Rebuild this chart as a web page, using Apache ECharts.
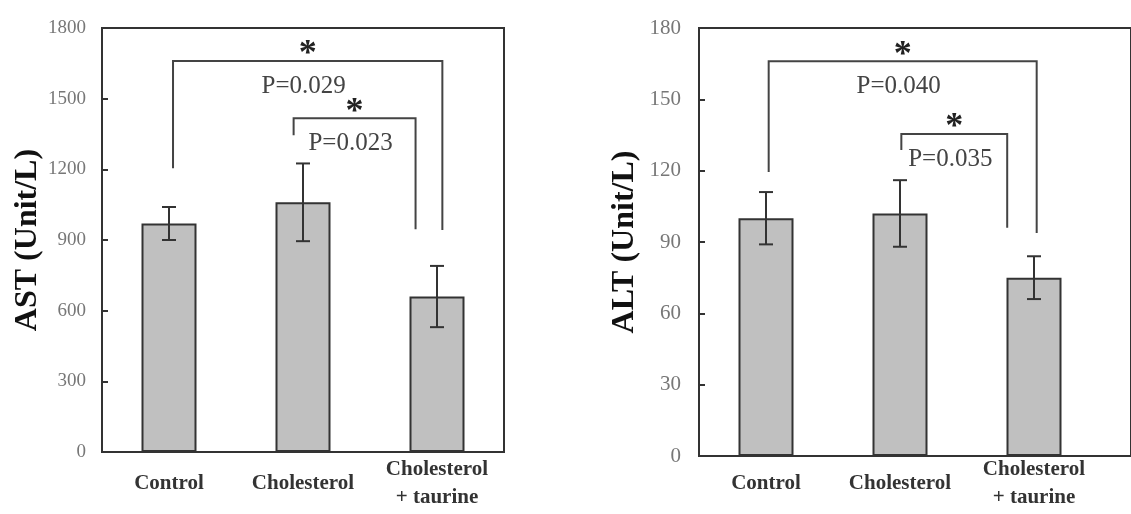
<!DOCTYPE html>
<html>
<head>
<meta charset="utf-8">
<script src="https://cdn.jsdelivr.net/npm/echarts@6/dist/echarts.min.js"></script>
<style>
html,body{margin:0;padding:0;background:#fff;}
#chart{width:1131px;height:514px;}
</style>
</head>
<body>
<div id="chart"></div>
<script>
// ---- data ----
const categories = ['Control', 'Cholesterol', 'Cholesterol\n+ taurine'];
const astMean = [970, 1060, 660];
const astErr = [70, 165, 130];
const altMean = [100, 102, 75];
const altErr = [11, 14, 9];
const astAxis = { min: 0, max: 1800, interval: 300 };
const altAxis = { min: 0, max: 180, interval: 30 };
// significance brackets: [fromCategory, toCategory, topValue, leftEndValue, rightEndValue]
const astBrackets = [[0, 2, 1660, 1205, 942], [1, 2, 1417, 1345, 946]];
const astPValues = ['P=0.029', 'P=0.023'];
const altBrackets = [[0, 2, 166, 119.4, 93.8], [1, 2, 135.4, 128.7, 96]];
const altPValues = ['P=0.040', 'P=0.035'];
// bracket leg horizontal shifts (fraction of a category band) — layout only
const astShift = [[0.03, 0.04], [-0.07, -0.16]];
const altShift = [[0.02, 0.02], [0.01, -0.2]];

const SERIF = "'Liberation Serif', 'DejaVu Serif', serif";
const INK = '#333';

function errorRender(params, api) {
  const x = api.value(0);
  const lo = api.coord([x, api.value(1)]);
  const hi = api.coord([x, api.value(2)]);
  const cap = 7;
  return {
    type: 'group',
    children: [
      { type: 'line', shape: { x1: lo[0], y1: lo[1], x2: hi[0], y2: hi[1] }, style: { stroke: INK, lineWidth: 2 } },
      { type: 'line', shape: { x1: hi[0] - cap, y1: hi[1], x2: hi[0] + cap, y2: hi[1] }, style: { stroke: INK, lineWidth: 2 } },
      { type: 'line', shape: { x1: lo[0] - cap, y1: lo[1], x2: lo[0] + cap, y2: lo[1] }, style: { stroke: INK, lineWidth: 2 } }
    ]
  };
}

function bracketRender(shifts, pvals) {
  return function (params, api) {
    const i = params.dataIndex;
    const band = api.size([1, 0])[0];
    const from = api.value(0), to = api.value(1);
    const yTop = api.coord([from, api.value(2)])[1];
    const yL = api.coord([from, api.value(3)])[1];
    const yR = api.coord([to, api.value(4)])[1];
    const xL = api.coord([from, api.value(2)])[0] + shifts[i][0] * band;
    const xR = api.coord([to, api.value(2)])[0] + shifts[i][1] * band;
    const mid = (xL + xR) / 2;
    return {
      type: 'group',
      children: [
        { type: 'polyline', shape: { points: [[xL, yL], [xL, yTop], [xR, yTop], [xR, yR]] },
          style: { stroke: '#444', lineWidth: 2, fill: null } },
        { type: 'text', x: mid, y: yTop - 6,
          style: { text: '*', fill: '#222', font: "bold 36px " + SERIF, align: 'center', verticalAlign: 'middle' } },
        { type: 'text', x: mid - 4, y: yTop + 25,
          style: { text: pvals[i], fill: '#444', font: "25px " + SERIF, align: 'center', verticalAlign: 'middle' } }
      ]
    };
  };
}

function xAxisCfg(gridIndex, margin) {
  return {
    type: 'category', gridIndex: gridIndex, data: categories,
    axisLine: { show: true, lineStyle: { color: INK, width: 2 } },
    axisTick: { show: false },
    axisLabel: { color: '#333', fontFamily: SERIF, fontWeight: 'bold', fontSize: 21,
      margin: margin, verticalAlign: 'middle', lineHeight: 28, interval: 0 }
  };
}
function yAxisCfg(gridIndex, ax, name, fontSize, margin, gap) {
  return {
    type: 'value', gridIndex: gridIndex, min: ax.min, max: ax.max, interval: ax.interval,
    name: name, nameLocation: 'middle', nameGap: gap, nameRotate: 90,
    nameTextStyle: { color: '#111', fontFamily: SERIF, fontWeight: 'bold', fontSize: 32 },
    axisLine: { show: true, lineStyle: { color: INK, width: 2 } },
    axisTick: { show: true, inside: true, length: 6, lineStyle: { color: INK, width: 2 } },
    splitLine: { show: false },
    axisLabel: { color: '#777', fontFamily: SERIF, fontSize: fontSize, margin: margin,
      formatter: function (v) { return String(v); } }
  };
}

const chart = echarts.init(document.getElementById('chart'), null, { renderer: 'canvas' });
chart.setOption({
  animation: false,
  backgroundColor: '#fff',
  grid: [
    { left: 102, top: 28, width: 402, height: 424, show: true, borderColor: INK, borderWidth: 2, backgroundColor: 'transparent' },
    { left: 699, top: 28, width: 402, height: 428 },
    { left: 699, top: 28, width: 470, height: 428, show: true, borderColor: INK, borderWidth: 2, backgroundColor: 'transparent' }
  ],
  xAxis: [
    xAxisCfg(0, 32),
    xAxisCfg(1, 28),
    { type: 'value', gridIndex: 2, show: false, min: 0, max: 1 }
  ],
  yAxis: [
    yAxisCfg(0, astAxis, 'AST (Unit/L)', 19, 16, 58),
    yAxisCfg(1, altAxis, 'ALT (Unit/L)', 21, 18, 58),
    { type: 'value', gridIndex: 2, show: false, min: 0, max: 1 }
  ],
  series: [
    { type: 'bar', xAxisIndex: 0, yAxisIndex: 0, data: astMean, barWidth: 55,
      itemStyle: { color: '#c0c0c0', borderColor: INK, borderWidth: 2 } },
    { type: 'custom', xAxisIndex: 0, yAxisIndex: 0, renderItem: errorRender, z: 5,
      data: astMean.map((m, i) => [i, m - astErr[i], m + astErr[i]]) },
    { type: 'custom', xAxisIndex: 0, yAxisIndex: 0, renderItem: bracketRender(astShift, astPValues), z: 6, clip: false,
      data: astBrackets },
    { type: 'bar', xAxisIndex: 1, yAxisIndex: 1, data: altMean, barWidth: 55,
      itemStyle: { color: '#c0c0c0', borderColor: INK, borderWidth: 2 } },
    { type: 'custom', xAxisIndex: 1, yAxisIndex: 1, renderItem: errorRender, z: 5,
      data: altMean.map((m, i) => [i, m - altErr[i], m + altErr[i]]) },
    { type: 'custom', xAxisIndex: 1, yAxisIndex: 1, renderItem: bracketRender(altShift, altPValues), z: 6, clip: false,
      data: altBrackets }
  ]
});
</script>
</body>
</html>
